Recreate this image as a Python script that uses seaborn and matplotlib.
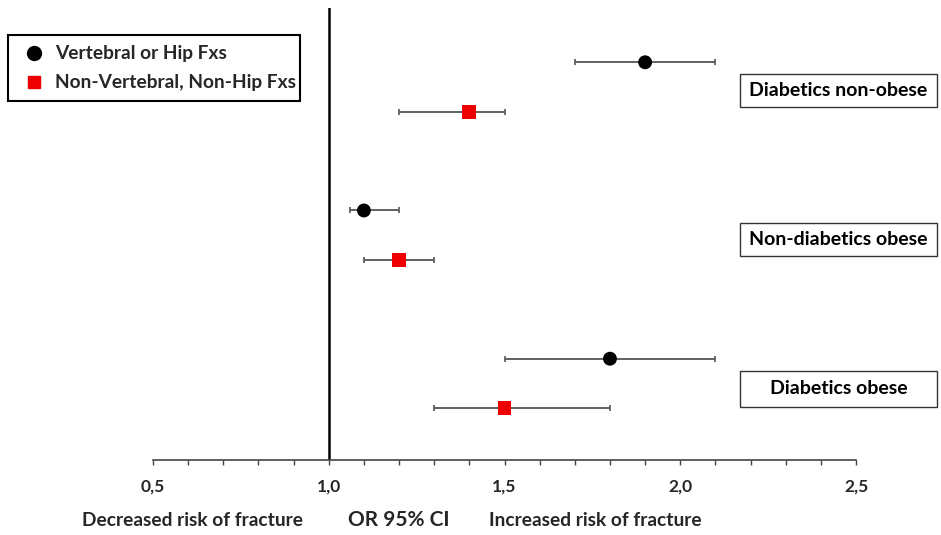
import matplotlib
matplotlib.use("Agg")
import matplotlib.pyplot as plt
from matplotlib.patches import Rectangle
from matplotlib.ticker import MultipleLocator
import seaborn as sns
import pandas as pd

# Odds ratios with 95% confidence intervals
groups = ["Diabetics non-obese", "Non-diabetics obese", "Diabetics obese"]
series = ["Vertebral or Hip Fxs", "Non-Vertebral, Non-Hip Fxs"]
or_vert = [1.90, 1.10, 1.80]
lo_vert = [1.70, 1.06, 1.50]
hi_vert = [2.10, 1.20, 2.10]
or_nonvert = [1.40, 1.20, 1.50]
lo_nonvert = [1.20, 1.10, 1.30]
hi_nonvert = [1.50, 1.30, 1.80]
tick_values = [0.5, 1.0, 1.5, 2.0, 2.5]
tick_labels = ["0,5", "1,0", "1,5", "2,0", "2,5"]

rows = []
for i, g in enumerate(groups):
    rows.append(dict(group=g, series=series[0], y=3 * i, OR=or_vert[i], lo=lo_vert[i], hi=hi_vert[i]))
    rows.append(dict(group=g, series=series[1], y=3 * i + 1, OR=or_nonvert[i], lo=lo_nonvert[i], hi=hi_nonvert[i]))
df = pd.DataFrame(rows)

sns.set_theme(style="white")
plt.rcParams["font.family"] = ["Lato", "DejaVu Sans"]
plt.rcParams["font.weight"] = "bold"

fig = plt.figure(figsize=(9.41, 5.35), dpi=100)
ax = fig.add_axes([0.1626, 0.1402, 0.7471, 0.845])

# confidence interval whiskers
ax.errorbar(df["OR"], df["y"], xerr=[df["OR"] - df["lo"], df["hi"] - df["OR"]],
            fmt="none", ecolor="#555555", elinewidth=1.3, capsize=2.5, capthick=1.2, zorder=2)

palette = {series[0]: "black", series[1]: "#ee0000"}
markers = {series[0]: "o", series[1]: "s"}
sns.scatterplot(data=df, x="OR", y="y", hue="series", style="series",
                palette=palette, markers=markers, s=100, linewidth=0,
                ax=ax, zorder=3, legend=False)

# reference line at OR = 1
ax.axvline(1.0, color="black", lw=1.8, zorder=1)

ax.set_xlim(0.5, 2.5)
ax.set_ylim(8.05, -1.1)
ax.set_xticks(tick_values)
ax.set_xticklabels(tick_labels, fontsize=12.5, fontweight="bold")
ax.xaxis.set_minor_locator(MultipleLocator(0.1))
ax.tick_params(axis="x", which="both", direction="out", length=3.5, width=1,
               color="#444444", bottom=True, pad=10)
ax.set_yticks([])
ax.set_xlabel("")
ax.set_ylabel("")
for s in ["top", "right", "left"]:
    ax.spines[s].set_visible(False)
ax.spines["bottom"].set_color("#444444")
ax.spines["bottom"].set_linewidth(1.2)

# group labels in boxes to the right
box_y = [(74, 107), (223, 256), (371, 407)]
W, H = 941, 535
for g, (y0, y1) in zip(groups, box_y):
    fig.patches.append(Rectangle((740 / W, 1 - y1 / H), 197 / W, (y1 - y0) / H,
                                 transform=fig.transFigure, fill=False,
                                 edgecolor="#333333", lw=1.0))
    fig.text(838.5 / W, 1 - (y0 + y1) / 2 / H, g, ha="center", va="center",
             fontsize=14, fontweight="bold", color="black")

# legend box
fig.patches.append(Rectangle((8 / W, 1 - 101 / H), 292 / W, 66 / H,
                             transform=fig.transFigure, fill=False,
                             edgecolor="black", lw=1.5))
fig.lines.append(plt.Line2D([34 / W], [1 - 53 / H], marker="o", color="black",
                            markersize=10, linestyle="none", transform=fig.transFigure))
fig.lines.append(plt.Line2D([34 / W], [1 - 82 / H], marker="s", color="#ee0000",
                            markersize=9, linestyle="none", transform=fig.transFigure))
fig.text(55 / W, 1 - 53 / H, series[0], ha="left", va="center", fontsize=13.8, fontweight="bold")
fig.text(55 / W, 1 - 82 / H, series[1], ha="left", va="center", fontsize=13.8, fontweight="bold")

# bottom annotations
fig.text(192 / W, 1 - 520 / H, "Decreased risk of fracture", ha="center", va="center",
         fontsize=13.8, fontweight="bold")
fig.text(399 / W, 1 - 520 / H, "OR 95% CI", ha="center", va="center",
         fontsize=15, fontweight="bold")
fig.text(595 / W, 1 - 520 / H, "Increased risk of fracture", ha="center", va="center",
         fontsize=13.8, fontweight="bold")

fig.savefig("out.png", dpi=100, facecolor="white")
